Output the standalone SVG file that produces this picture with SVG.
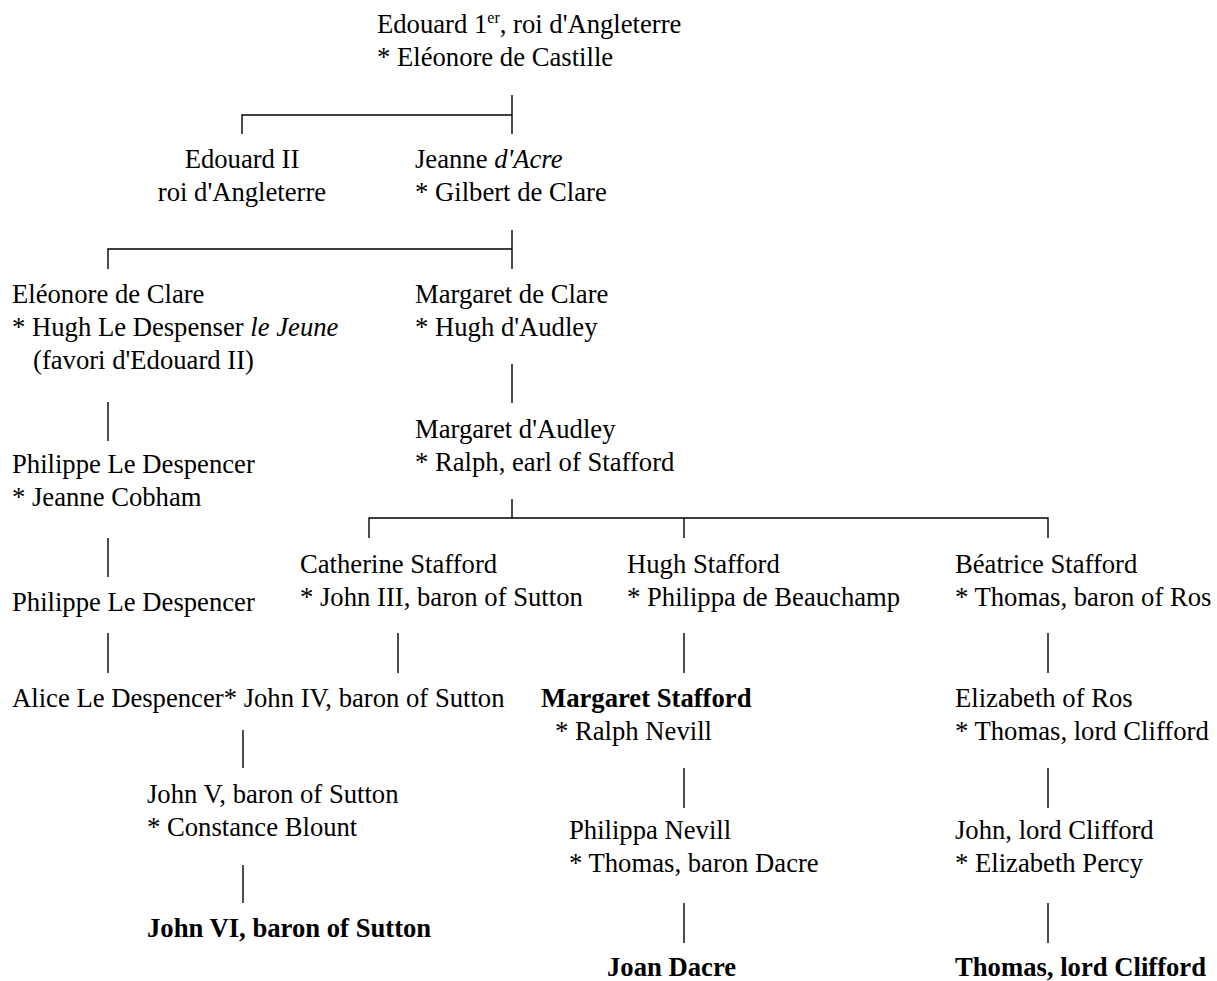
<svg xmlns="http://www.w3.org/2000/svg" width="1217" height="981" viewBox="0 0 1217 981">
  <style>
    text { font-family: "Liberation Serif", "Times New Roman", serif; font-size: 26.67px; fill: #000; }
    .b { font-weight: bold; }
    .i { font-style: italic; }
    .sup { font-size: 16px; }
    .links path { fill: none; stroke: #000; stroke-width: 1.4; }
  </style>
  <rect width="1217" height="981" fill="#fff"/>

  <!-- family connectors -->
  <g class="links" id="connectors">
    <path d="M512 95V134M512 115H242V134"/>
    <path d="M512 230V269M512 249H108V269"/>
    <path d="M512 364V403"/>
    <path d="M512 499V518M369 538V518H1048V538M684 518V538"/>
    <path d="M108 402V441"/>
    <path d="M108 538V577"/>
    <path d="M108 633V673M398 633V673M684 633V673M1048 633V673"/>
    <path d="M243 730V768"/>
    <path d="M243 865V903"/>
    <path d="M684 768V808M1048 768V808"/>
    <path d="M684 903V943M1048 903V943"/>
  </g>

  <g id="edouard1">
    <text x="377" y="33">Edouard 1<tspan class="sup" dy="-10">er</tspan><tspan dy="10">, roi d'Angleterre</tspan></text>
    <text x="377" y="66">* Eléonore de Castille</text>
  </g>
  <g id="edouard2">
    <text x="242" y="168" text-anchor="middle">Edouard II</text>
    <text x="242" y="201" text-anchor="middle">roi d'Angleterre</text>
  </g>
  <g id="jeanne">
    <text x="415" y="168">Jeanne <tspan class="i">d'Acre</tspan></text>
    <text x="415" y="201">* Gilbert de Clare</text>
  </g>
  <g id="eleonore-clare">
    <text x="12" y="303">Eléonore de Clare</text>
    <text x="12" y="336">* Hugh Le Despenser <tspan class="i">le Jeune</tspan></text>
    <text x="33" y="369">(favori d'Edouard II)</text>
  </g>
  <g id="margaret-clare">
    <text x="415" y="303">Margaret de Clare</text>
    <text x="415" y="336">* Hugh d'Audley</text>
  </g>
  <g id="margaret-audley">
    <text x="415" y="438">Margaret d'Audley</text>
    <text x="415" y="471">* Ralph, earl of Stafford</text>
  </g>
  <g id="philippe1">
    <text x="12" y="473">Philippe Le Despencer</text>
    <text x="12" y="506">* Jeanne Cobham</text>
  </g>
  <g id="philippe2">
    <text x="12" y="611">Philippe Le Despencer</text>
  </g>
  <g id="catherine">
    <text x="300" y="573">Catherine Stafford</text>
    <text x="300" y="606">* John III, baron of Sutton</text>
  </g>
  <g id="hugh-stafford">
    <text x="627" y="573">Hugh Stafford</text>
    <text x="627" y="606">* Philippa de Beauchamp</text>
  </g>
  <g id="beatrice">
    <text x="955" y="573">Béatrice Stafford</text>
    <text x="955" y="606">* Thomas, baron of Ros</text>
  </g>
  <g id="alice">
    <text x="12" y="707">Alice Le Despencer* John IV, baron of Sutton</text>
  </g>
  <g id="margaret-stafford">
    <text x="541" y="707" class="b">Margaret Stafford</text>
    <text x="555" y="740">* Ralph Nevill</text>
  </g>
  <g id="elizabeth-ros">
    <text x="955" y="707">Elizabeth of Ros</text>
    <text x="955" y="740">* Thomas, lord Clifford</text>
  </g>
  <g id="john5">
    <text x="147" y="803">John V, baron of Sutton</text>
    <text x="147" y="836">* Constance Blount</text>
  </g>
  <g id="john6">
    <text x="147" y="937" class="b">John VI, baron of Sutton</text>
  </g>
  <g id="philippa-nevill">
    <text x="569" y="839">Philippa Nevill</text>
    <text x="569" y="872">* Thomas, baron Dacre</text>
  </g>
  <g id="john-clifford">
    <text x="955" y="839">John, lord Clifford</text>
    <text x="955" y="872">* Elizabeth Percy</text>
  </g>
  <g id="joan">
    <text x="607" y="976" class="b">Joan Dacre</text>
  </g>
  <g id="thomas-clifford">
    <text x="955" y="976" class="b">Thomas, lord Clifford</text>
  </g>
</svg>
